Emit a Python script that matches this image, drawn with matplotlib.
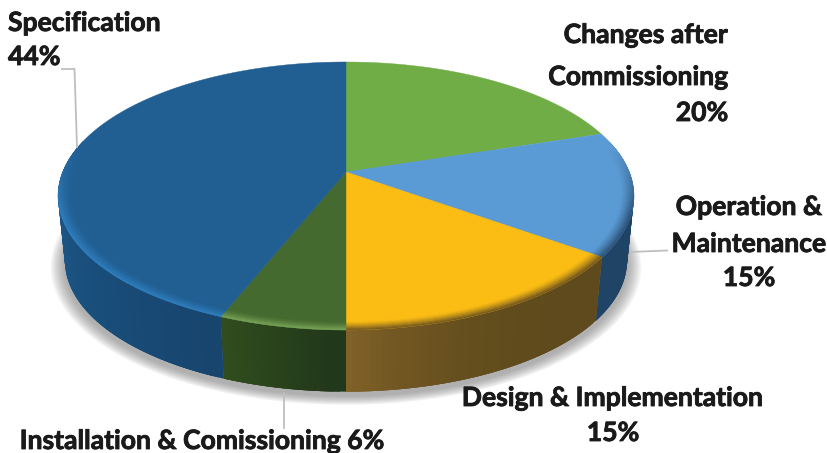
import numpy as np
import matplotlib
matplotlib.use("Agg")
import matplotlib.pyplot as plt
import matplotlib.patheffects as pe
from matplotlib.colors import to_rgb
from matplotlib.patches import Polygon
from matplotlib.collections import PolyCollection

# Shares of the pie, clockwise from twelve o'clock
categories = ["Changes after Commissioning", "Operation & Maintenance",
              "Design & Implementation", "Installation & Comissioning", "Specification"]
shares = [20, 15, 15, 6, 44]

top_colors = ["#70AD47", "#5B9BD5", "#FBBC14", "#456A2F", "#215F93"]
rim_colors = ["#70AD47", "#2A4F73", "#6B5220", "#7AA65A", "#3080C0"]
wall_near = ["#22471C", "#1E4263", "#5E4A1C", "#22381A", "#17456E"]
wall_far = ["#22471C", "#1F4466", "#87652A", "#33511F", "#1E5F93"]
wall_power = [1, 1, 3, 1, 1]

# Camera model of the tilted disc, in figure pixels
CX, CY = 346.0, 172.0
RX, RY, PERSP = 283.3, 129.7, 0.179
FLOOR_SCALE, FLOOR_DROP = 0.976, 65.5
RIM_START = 0.955


def project(r, theta, scale=1.0, drop=0.0):
    """Map polar disc coordinates (theta clockwise from the far point) to the page."""
    x, y = r * np.sin(theta), r * np.cos(theta)
    den = 1 + PERSP * y
    return CX + scale * RX * x / den, CY - scale * RY * y / den + drop


def mix(c1, c2, t):
    a, b = np.array(to_rgb(c1)), np.array(to_rgb(c2))
    return tuple(a + (b - a) * t)


fig = plt.figure(figsize=(8.28, 4.53), dpi=100)
ax = fig.add_axes([0, 0, 1, 1])
ax.set_xlim(0, 828)
ax.set_ylim(453, 0)
ax.axis("off")

edges = np.radians(np.concatenate([[0], np.cumsum(shares)]) * 3.6)

# Soft drop shadow under the disc
full = np.linspace(0, 2 * np.pi, 361)
for e in np.arange(14, 0, -1):
    sx, sy = project(1 + e / 285, full, FLOOR_SCALE, FLOOR_DROP + 4)
    ax.fill(sx, sy, color="#707070", alpha=0.05, lw=0, zorder=1)

# Side wall, shaded along the arc; each quad overlaps the next so no seams show
for i in range(len(shares)):
    t0, t1 = edges[i], edges[i + 1]
    steps = np.linspace(t0, t1, max(int(np.degrees(t1 - t0)), 2))
    visible = steps[np.cos(steps) < 0.25]
    if len(visible) < 2:
        continue
    polys, cols = [], []
    for j in range(len(visible) - 1):
        a = visible[j]
        b = visible[min(j + 3, len(visible) - 1)]
        xa, ya = project(1, a)
        xb, yb = project(1, b)
        xc, yc = project(1, b, FLOOR_SCALE, FLOOR_DROP)
        xd, yd = project(1, a, FLOOR_SCALE, FLOOR_DROP)
        polys.append([(xa, ya), (xb, yb), (xc, yc), (xd, yd)])
        frac = (a - visible[0]) / (visible[-1] - visible[0])
        cols.append(mix(wall_near[i], wall_far[i], frac ** wall_power[i]))
    # Paint from the far end so that the overlap always falls on a wall colour
    ax.add_collection(PolyCollection(polys[::-1], facecolors=cols[::-1], edgecolors="none",
                                     zorder=2 + i * 0.01))

# Top face of each slice
for i in range(len(shares)):
    arc = np.linspace(edges[i], edges[i + 1], 200)
    ax_pts, ay_pts = project(1, arc)
    verts = [(CX, CY)] + list(zip(ax_pts, ay_pts))
    ax.add_patch(Polygon(verts, closed=True, facecolor=top_colors[i],
                         edgecolor=top_colors[i], lw=0.3, zorder=3))

# Bevelled edge blending the top face into the wall
radii = np.linspace(RIM_START, 1.0, 9)
for i in range(len(shares)):
    steps = np.linspace(edges[i], edges[i + 1], max(int(np.degrees(edges[i + 1] - edges[i])), 2))
    polys, cols = [], []
    for a, b in zip(steps[:-1], steps[1:]):
        mid = (a + b) / 2
        strength = np.clip((0.2 - np.cos(mid)) / 0.5, 0, 1)
        if strength <= 0:
            continue
        for r0, r1 in zip(radii[:-1], radii[1:]):
            u = ((r0 + r1) / 2 - RIM_START) / (1 - RIM_START)
            p = [project(r0, a), project(r0, b), project(r1, b), project(r1, a)]
            polys.append(p)
            cols.append(mix(top_colors[i], rim_colors[i], strength * u ** 1.3))
    if polys:
        ax.add_collection(PolyCollection(polys, facecolors=cols, edgecolors=cols,
                                         linewidths=0.3, zorder=4))

# Leader lines
leader = dict(color="#BFBFBF", lw=1.3, zorder=5, solid_joinstyle="miter")
ax.plot([62, 74.5, 77], [69, 69, 147], **leader)
ax.plot([630, 667], [252, 250.5], **leader)
ax.plot([284, 284], [393, 428], **leader)

# Labels, thickened a little with a stroke of the same colour
font = dict(family="Lato", weight="bold", fontsize=19.1, color="#1A1A1A", va="center", zorder=6,
            path_effects=[pe.withStroke(linewidth=0.6, foreground="#1A1A1A")])
ax.text(8, 23, "Specification", ha="left", **font)
ax.text(8, 57, f"{shares[4]}%", ha="left", **font)
ax.text(728, 35, "Changes after", ha="right", **font)
ax.text(728, 77, "Commissioning", ha="right", **font)
ax.text(728, 113, f"{shares[0]}%", ha="right", **font)
ax.text(749, 207, "Operation &", ha="center", **font)
ax.text(749, 244, "Maintenance", ha="center", **font)
ax.text(749, 278, f"{shares[1]}%", ha="center", **font)
ax.text(612.5, 398, "Design & Implementation", ha="center", **font)
ax.text(613, 433, f"{shares[2]}%", ha="center", **font)
ax.text(202, 441, f"Installation & Comissioning {shares[3]}%", ha="center", **font)

fig.savefig("out.png", dpi=100, facecolor="white")
